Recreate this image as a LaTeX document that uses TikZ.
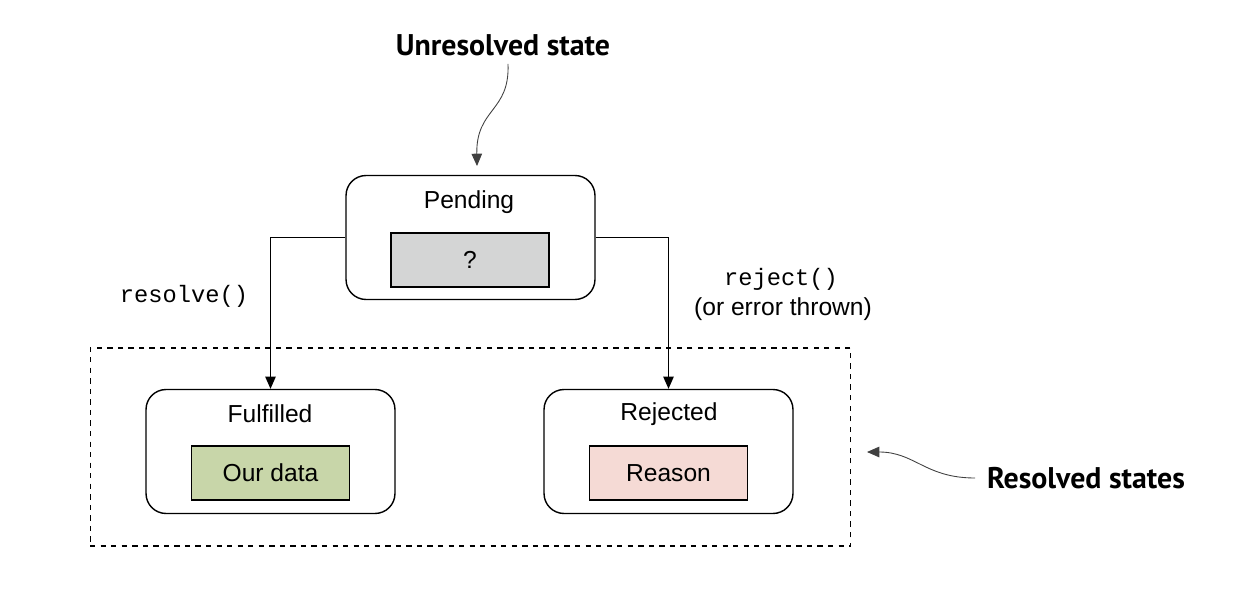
\documentclass[tikz,border=0pt]{standalone}
\usepackage{xcolor}
\usepackage{fontspec}
\setmainfont{Liberation Sans}
\setmonofont{Liberation Mono}
\newfontfamily\headfont{PT Sans}
\usetikzlibrary{arrows.meta}
\definecolor{qgray}{RGB}{212,213,213}
\definecolor{okgreen}{RGB}{200,214,169}
\definecolor{errpink}{RGB}{245,218,213}
\begin{document}
\begin{tikzpicture}[x=0.02cm,y=-0.02cm,font=\fontsize{14}{16}\selectfont,
    statebox/.style={draw,line width=0.8pt,rounded corners=0.4cm,minimum width=4.98cm,minimum height=2.48cm},
    valbox/.style={draw,line width=0.7pt,minimum width=3.16cm,minimum height=1.08cm},
    heading/.style={font=\headfont\bfseries\fontsize{17}{20}\selectfont},
    code/.style={font=\ttfamily\fontsize{13.5}{16}\selectfont},
    arr/.style={line width=0.6pt,-{Triangle[length=7pt,width=6pt]}},
    note/.style={line width=0.5pt,draw=black!75,-{Triangle[length=7pt,width=6pt]}}]
  \useasboundingbox (0,0) rectangle (1236,594);
  % states
  \node[statebox] (pending) at (470.5,237.5) {};
  \node (pendinglbl) at (469,202) {Pending};
  \node[valbox,fill=qgray] (pendingval) at (470,260) {?};
  \node[draw,dashed,line width=0.6pt,minimum width=15.22cm,minimum height=3.96cm] (settled) at (470.5,447) {};
  \node[statebox] (fulfilled) at (270.5,451.5) {};
  \node (fulfilledlbl) at (270,414) {Fulfilled};
  \node[valbox,fill=okgreen] (fulfilledval) at (270.5,473) {Our data};
  \node[statebox] (rejected) at (668.5,451.5) {};
  \node (rejectedlbl) at (669,414) {Rejected};
  \node[valbox,fill=errpink] (rejectedval) at (668.5,473) {Reason};
  % transitions
  \draw[arr] (pending.west) -| (fulfilled.north);
  \draw[arr] (pending.east) -| (rejected.north);
  \node[code] (resolvelbl) at (184,296) {resolve()};
  \node[code] (rejectlbl) at (781,279) {reject()};
  \node (errorlbl) at (783,309) {(or error thrown)};
  % callouts
  \node[heading] (unresolved) at (503,45) {Unresolved state};
  \node[heading] (resolved) at (1086,478) {Resolved states};
  \coordinate (pendingtip) at (477,166);
  \coordinate (settledtip) at (867,452);
  \draw[note] (unresolved.south)+(5,2) .. controls (510,112) and (476,108) .. (pendingtip);
  \draw[note] (975,478) .. controls (925,478) and (915,452) .. (settledtip);
\end{tikzpicture}
\end{document}
